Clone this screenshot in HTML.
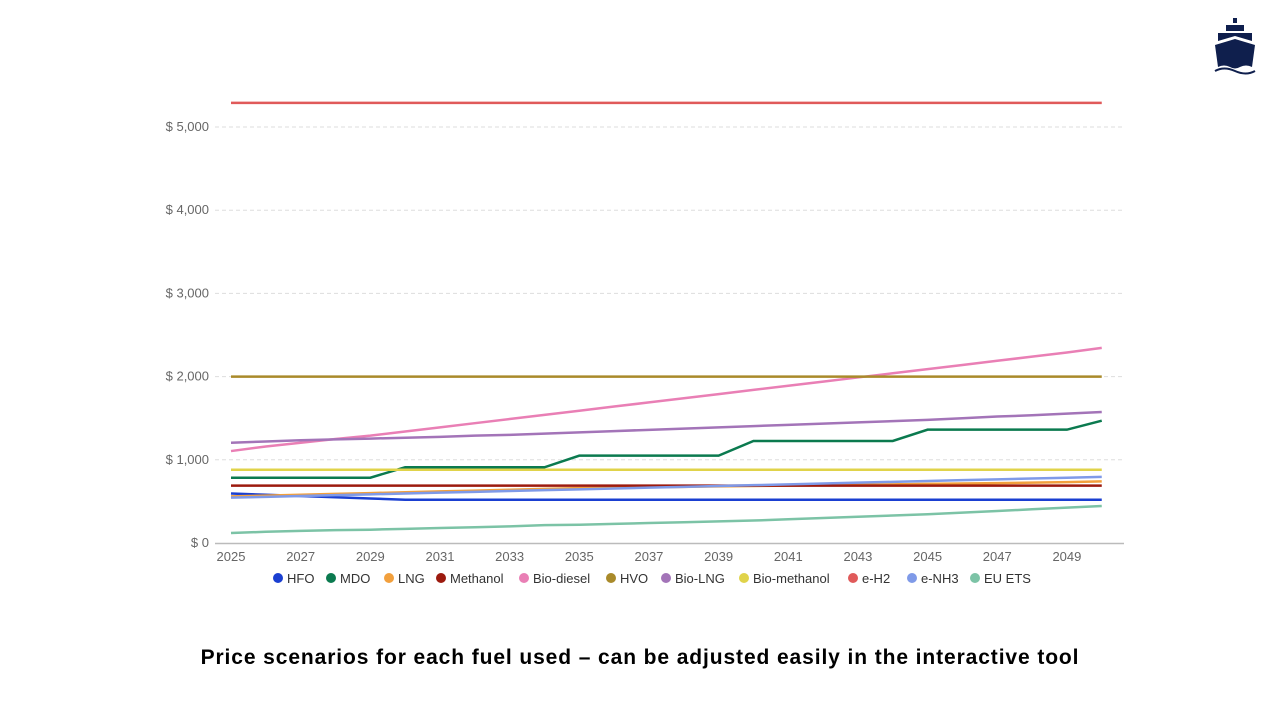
<!DOCTYPE html>
<html><head><meta charset="utf-8">
<style>
body{margin:0;width:1280px;height:720px;background:#fff;overflow:hidden;font-family:"Liberation Sans",sans-serif}
#title{position:absolute;left:0;width:1280px;top:646px;text-align:center;font-weight:bold;font-size:21px;letter-spacing:0.9px;color:#000}
</style></head><body>
<svg id="chart" width="1280" height="720" style="position:absolute;left:0;top:0"></svg>
<div id="title">Price scenarios for each fuel used – can be adjusted easily in the interactive tool</div>
<svg width="50" height="60" viewBox="0 0 50 60" style="position:absolute;left:1210px;top:15px">
<rect x="23" y="3" width="4" height="5" fill="#0f1f4d"/>
<rect x="16" y="10" width="18" height="6" fill="#0f1f4d"/>
<path d="M8 18 L42 18 L42 26 L25 21 L8 26Z" fill="#0f1f4d"/>
<path d="M5 30 L25 24 L45 30 L42 52 Q36 49 30 52 Q25 55 20 52 Q14 49 8 52Z" fill="#0f1f4d"/>
<path d="M5 56 Q14 51 25 56 Q36 61 45 56" stroke="#0f1f4d" stroke-width="2" fill="none"/>
</svg>
<script>
const years=[2025,2026,2027,2028,2029,2030,2031,2032,2033,2034,2035,2036,2037,2038,2039,2040,2041,2042,2043,2044,2045,2046,2047,2048,2049,2050];
const yTicks=[0,1000,2000,3000,4000,5000];
const yTickLabels=["$ 0","$ 1,000","$ 2,000","$ 3,000","$ 4,000","$ 5,000"];
const xTicks=[2025,2027,2029,2031,2033,2035,2037,2039,2041,2043,2045,2047,2049];
const seriesNames=["HFO","MDO","LNG","Methanol","Bio-diesel","HVO","Bio-LNG","Bio-methanol","e-H2","e-NH3","EU ETS"];
const seriesColors=["#1a3fd1","#0b7a4f","#f2a03d","#9c1a0e","#e97fb5","#a98a2a","#a374b8","#e0d34a","#e05a5a","#7f9ae8","#7cc3a6"];
const hfo=[595,580,565,550,535,520,520,520,520,520,520,520,520,520,520,520,520,520,520,520,520,520,520,520,520,520];
const mdo=[785,785,785,785,785,910,910,910,910,910,1050,1050,1050,1050,1050,1226,1226,1226,1226,1226,1362,1362,1362,1362,1362,1470];
const lng=[560,570,580,590,600,610,620,630,640,650,660,665,670,675,680,685,690,695,700,705,710,715,720,725,732,740];
const methanol=[690,690,690,690,690,690,690,690,690,690,690,690,690,690,690,690,690,690,690,690,690,690,690,690,690,690];
const biodiesel=[1105,1160,1205,1250,1290,1340,1390,1440,1490,1540,1590,1640,1690,1740,1790,1840,1890,1940,1990,2040,2090,2140,2190,2240,2290,2345];
const hvo=[2000,2000,2000,2000,2000,2000,2000,2000,2000,2000,2000,2000,2000,2000,2000,2000,2000,2000,2000,2000,2000,2000,2000,2000,2000,2000];
const biolng=[1205,1220,1235,1245,1255,1265,1275,1290,1300,1315,1330,1345,1360,1375,1390,1405,1420,1435,1450,1465,1480,1500,1520,1535,1555,1575];
const biomethanol=[880,880,880,880,880,880,880,880,880,880,880,880,880,880,880,880,880,880,880,880,880,880,880,880,880,880];
const eh2=[5290,5290,5290,5290,5290,5290,5290,5290,5290,5290,5290,5290,5290,5290,5290,5290,5290,5290,5290,5290,5290,5290,5290,5290,5290,5290];
const enh3=[545,555,565,575,585,595,605,615,625,635,645,655,665,675,685,695,705,715,725,735,745,755,765,775,785,795];
const euets=[120,135,145,155,160,170,180,190,200,215,220,230,240,250,260,270,285,300,315,330,345,365,385,405,425,445];
const seriesData=[hfo,mdo,lng,methanol,biodiesel,hvo,biolng,biomethanol,eh2,enh3,euets];

const svg=document.getElementById('chart');
const NS='http://www.w3.org/2000/svg';
const x=v=>231+(v-2025)*34.83;
const y=v=>543-v*0.0832;
function mk(t,a){const e=document.createElementNS(NS,t);for(const k in a)e.setAttribute(k,a[k]);svg.appendChild(e);return e;}

yTicks.forEach((t,i)=>{
  if(t>0){const g=mk('line',{x1:215,x2:1124,y1:y(t),y2:y(t),stroke:'#ddd','stroke-dasharray':'4,3'});
  
  }
  const l=mk('text',{x:209,y:y(t)+4,'text-anchor':'end','font-size':13,fill:'#666'});
  l.textContent=yTickLabels[i];
  
  
});
const base=mk('line',{x1:215,x2:1124,y1:543.5,y2:543.5,stroke:'#bbb','stroke-width':1.5});


xTicks.forEach(t=>{
  const l=mk('text',{x:x(t),y:561,'text-anchor':'middle','font-size':13,fill:'#666'});
  l.textContent=t;
  
  
});
seriesData.forEach((d,i)=>{
  const p=mk('polyline',{points:d.map((v,j)=>x(years[j])+','+y(v)).join(' '),fill:'none',stroke:seriesColors[i],'stroke-width':2.5});
  
  
});
const legendX=[278,331,389,441,524,611,666,744,853,912,975];
seriesNames.forEach((n,i)=>{
  const c=mk('circle',{cx:legendX[i],cy:578,r:5,fill:seriesColors[i]});
  
  
  const t=mk('text',{x:legendX[i]+9,y:583,'font-size':13,fill:'#333'});
  t.textContent=n;
  
  
});
</script>
</body></html>
